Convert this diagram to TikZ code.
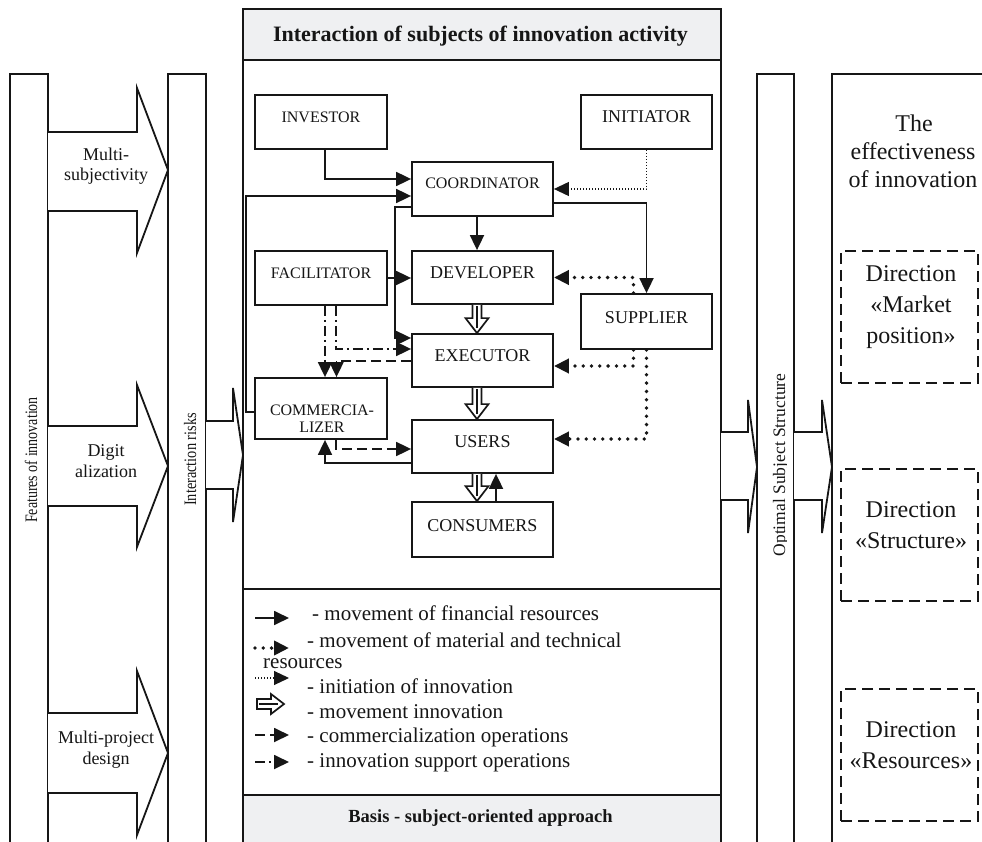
\documentclass[tikz,border=0pt]{standalone}
\usepackage{fontspec}
\usepackage{graphicx}
\setmainfont{Liberation Serif}
\usetikzlibrary{arrows.meta,calc}
\definecolor{ink}{HTML}{161616}
\definecolor{hdr}{HTML}{EFF0F2}
\newcommand{\lift}[2]{\raisebox{#1pt}[0pt][0pt]{#2}}
\newcommand{\fs}[1]{\fontsize{#1}{#1}\selectfont}
\newcommand{\innoarrow}[2]{%
  \draw[inno] ($(#1)+(-4.5,0)$) -- ($(#2)+(-4.5,-15)$) -- ($(#2)+(-11.5,-15)$) -- (#2) -- ($(#2)+(11.5,-15)$) -- ($(#2)+(4.5,-15)$) -- ($(#1)+(4.5,0)$);
  \draw[draw=ink, line width=2.4pt] ($(#1)+(0,1.5)$) -- ($(#2)+(0,-5)$);
}
\begin{document}
\begin{tikzpicture}[x=1pt,y=-1pt, line join=miter,
  every node/.style={inner sep=0pt, text=ink},
  lineframe/.style={draw=ink, line width=1.8pt},
  subjbox/.style={draw=ink, line width=1.8pt, fill=white, minimum width=132pt, minimum height=54pt},
  arrowtip/.style={-{Triangle[length=15pt 0 0,width=14pt 0 0]}},
  fin/.style={draw=ink, line width=1.8pt, arrowtip},
  mat/.style={draw=ink, line width=3.8pt, line cap=round, dash pattern=on 0pt off 8.3pt, arrowtip},
  ini/.style={draw=ink, line width=1.1pt, dash pattern=on 1.1pt off 1.9pt, arrowtip},
  comm/.style={draw=ink, line width=1.8pt, dash pattern=on 10pt off 5pt, arrowtip},
  supp/.style={draw=ink, line width=1.8pt, dash pattern=on 10pt off 4pt on 2pt off 4pt, arrowtip},
  inno/.style={draw=ink, line width=1.7pt, fill=white},
  dbox/.style={draw=ink, line width=2pt, dash pattern=on 11pt off 6pt, minimum width=137pt, minimum height=132pt},
  nodetxt/.style={font=\fs{18}},
  smalltxt/.style={font=\fs{16}},
  lgd/.style={font=\fs{21}, anchor=base west},
  rtxt/.style={font=\fs{24}, anchor=base},
  ltxt/.style={font=\fs{18}, anchor=base},
]
\useasboundingbox (0,0) rectangle (982,842);

% ---------- left columns ----------
\draw[lineframe] (10,842) -- (10,74) -- (48,74) -- (48,842);
\draw[lineframe] (168,842) -- (168,74) -- (206,74) -- (206,842);
\node[rotate=90, anchor=base, font=\fs{17.5}] (feat) at (37,460) {\scalebox{0.8}[1]{Features of innovation}};
\node[rotate=90, anchor=base, font=\fs{17.5}] (risk) at (196,459.5) {\scalebox{0.82}[1]{Interaction risks}};

\draw[lineframe, fill=white] (48,132) -- (137,132) -- (137,88) -- (168,170) -- (137,253) -- (137,211) -- (48,211);
\draw[lineframe, fill=white] (48,426) -- (137,426) -- (137,385) -- (168,466) -- (137,547) -- (137,506) -- (48,506);
\draw[lineframe, fill=white] (48,713) -- (137,713) -- (137,671) -- (168,753) -- (137,835) -- (137,793) -- (48,793);
\node[ltxt] (m1) at (106,161) {Multi-};
\node[ltxt] (m2) at (106,181) {subjectivity};
\node[ltxt] (d1) at (106,456) {Digit};
\node[ltxt] (d2) at (106,477) {alization};
\begin{scope}
  \clip (48,713) -- (137,713) -- (137,671) -- (167,753) -- (137,835) -- (137,793) -- (48,793) -- cycle;
  \node[ltxt] (p1) at (106,743) {Multi-project};
\end{scope}
\node[ltxt] (p2) at (106,764) {design};

% arrow from interaction risks to central block
\draw[lineframe, fill=white] (206,421) -- (233,421) -- (233,388) -- (243,455) -- (233,522) -- (233,489) -- (206,489);

% ---------- central block ----------
\fill[hdr] (243,9) rectangle (721,60);
\fill[hdr] (243,795) rectangle (721,842);
\draw[lineframe] (243,842) -- (243,9) -- (721,9) -- (721,842);
\draw[lineframe] (243,60) -- (721,60);
\draw[lineframe] (243,589) -- (721,589);
\draw[lineframe] (243,795) -- (721,795);
\node[font=\bfseries\fs{22}, anchor=base] (title) at (480.5,42) {Interaction of subjects of innovation activity};
\node[font=\bfseries\fs{18.5}, anchor=base] (basis) at (480.5,822) {Basis - subject-oriented approach};

% subjects
\node[subjbox, smalltxt] (inv) at (321,122) {\lift{-1}{INVESTOR}};
\node[subjbox, nodetxt, minimum width=131pt] (init) at (646.5,122) {\lift{-1}{INITIATOR}};
\node[subjbox, smalltxt, minimum width=141pt] (coord) at (482.5,189) {\lift{0}{COORDINATOR}};
\node[subjbox, smalltxt] (fac) at (321,278) {\lift{-1}{FACILITATOR}};
\node[subjbox, nodetxt, minimum width=141pt, minimum height=53pt] (dev) at (482.5,277.5) {\lift{-1.5}{DEVELOPER}};
\node[subjbox, nodetxt, minimum width=131pt, minimum height=55pt] (sup) at (646.5,321.5) {\lift{-1.5}{SUPPLIER}};
\node[subjbox, nodetxt, minimum width=141pt, minimum height=53pt] (exe) at (482.5,360.5) {\lift{-0.5}{EXECUTOR}};
\node[subjbox, minimum height=61pt] (com) at (321,408.5) {};
\node[subjbox, nodetxt, minimum width=141pt, minimum height=53pt] (users) at (482.5,446.5) {\lift{-0.5}{USERS}};
\node[subjbox, nodetxt, minimum width=141pt, minimum height=55pt] (cons) at (482.5,529.5) {\lift{-1.5}{CONSUMERS}};
\begin{scope}
  \clip (com.north west) rectangle ([yshift=8pt]com.south east);
  \node[smalltxt, anchor=base] (com1) at (322,415) {COMMERCIA-};
  \node[smalltxt, anchor=base] (com2) at (322,432) {LIZER};
\end{scope}

% connectors: financial
\draw[fin] ([xshift=4pt]inv.south) |- ([yshift=10pt]coord.west);
\draw[fin] ([yshift=-3.5pt]com.west) -- ++(-8,0) |- ([yshift=-7pt]coord.west);
\draw[fin] ([yshift=-18pt]coord.west) -- ++(-16,0) |- ([yshift=22.5pt]exe.west);
\draw[fin] ([xshift=-5.5pt]coord.south) -- ([xshift=-5.5pt]dev.north);
\draw[fin] ([yshift=-14pt]coord.east) -| (sup.north);
\draw[fin] ([yshift=-16.5pt]users.west) -| ([xshift=4pt]com.south);
\draw[fin] ([xshift=13.5pt]cons.north) -- ([xshift=13.5pt]users.south);
% initiation
\draw[ini] (init.south) |- (coord.east);
% material and technical
\draw[mat] ([xshift=-13pt]sup.north) |- (dev.east);
\draw[mat] ([xshift=-13pt]sup.south) |- ([yshift=-5.5pt]exe.east);
\draw[mat] (sup.south) |- ([yshift=7.5pt]users.east);
% support operations
\draw[supp] (fac.east) -- (fac.east -| dev.west);
\draw[supp] ([xshift=4pt]fac.south) -- ([xshift=4pt]com.north);
\draw[supp] ([xshift=15pt]fac.south) |- ([yshift=11.5pt]exe.west);
% commercialization operations
\draw[comm] ([yshift=-0.5pt]exe.west) -| ([xshift=15.5pt]com.north);
\draw[comm] ([xshift=15pt]com.south) |- ([yshift=-2.5pt]users.west);
% movement of innovation
\coordinate (ia) at ([xshift=-5.5pt]dev.south);
\coordinate (ib) at ([xshift=-5.5pt]exe.north);
\coordinate (ic) at ([xshift=-5.5pt]exe.south);
\coordinate (id) at ([xshift=-5.5pt]users.north);
\coordinate (ie) at ([xshift=-5.5pt]users.south);
\coordinate (if) at ([xshift=-5.5pt]cons.north);
\innoarrow{ia}{ib}
\innoarrow{ic}{id}
\innoarrow{ie}{if}

% ---------- legend ----------
\coordinate (l1a) at (255,618); \coordinate (l1b) at (289,618);
\coordinate (l2a) at (255,648); \coordinate (l2b) at (289,648);
\coordinate (l3a) at (255,678); \coordinate (l3b) at (289,678);
\coordinate (l5a) at (255,735); \coordinate (l5b) at (289,735);
\coordinate (l6a) at (255,762); \coordinate (l6b) at (289,762);
\draw[fin] (l1a) -- (l1b);
\draw[mat] (l2a) -- (l2b);
\draw[ini] (l3a) -- (l3b);
\draw[comm] (l5a) -- (l5b);
\draw[supp] (l6a) -- (l6b);
\draw[inno] (257,699) -- (271,699) -- (271,694) -- (284,704) -- (271,714) -- (271,709) -- (257,709) -- cycle;
\draw[draw=ink, line width=2.4pt] (259,704) -- (278,704);
\node[lgd] (g1) at (312,620) {- movement of financial resources};
\node[lgd] (g2) at (307,647) {- movement of material and technical};
\node[lgd] (g2b) at (263,668) {resources};
\node[lgd] (g3) at (307,693) {- initiation of innovation};
\node[lgd] (g4) at (307,718) {- movement innovation};
\node[lgd] (g5) at (307,742) {- commercialization operations};
\node[lgd] (g6) at (307,767) {- innovation support operations};

% ---------- right side ----------
\draw[lineframe, fill=white] (721,432) -- (748,432) -- (748,400) -- (757,467) -- (748,533) -- (748,500) -- (721,500);
\draw[lineframe] (757,842) -- (757,74) -- (794,74) -- (794,842);
\begin{scope}
  \clip (757,74) rectangle (786.5,842);
  \node[rotate=90, anchor=base, font=\fs{17.5}] (opt) at (785,465) {Optimal Subject Structure};
\end{scope}
\draw[lineframe, fill=white] (794,432) -- (822,432) -- (822,400) -- (832,467) -- (822,533) -- (822,500) -- (794,500);
\draw[lineframe] (832,842) -- (832,74) -- (982,74);
\node[rtxt] (e1) at (914,132) {The};
\node[rtxt] (e2) at (913,160) {effectiveness};
\node[rtxt] (e3) at (913,188) {of innovation};

\node[dbox] (dir1) at (909.5,317) {};
\node[dbox] (dir2) at (909.5,535) {};
\node[dbox] (dir3) at (909.5,755) {};
\node[rtxt] (r1a) at (911,282) {Direction};
\node[rtxt] (r1b) at (911,312.5) {«Market};
\node[rtxt] (r1c) at (911,343) {position»};
\node[rtxt] (r2a) at (911,517) {Direction};
\node[rtxt] (r2b) at (911,548) {«Structure»};
\node[rtxt] (r3a) at (911,737) {Direction};
\node[rtxt] (r3b) at (911,768) {«Resources»};
\end{tikzpicture}
\end{document}
